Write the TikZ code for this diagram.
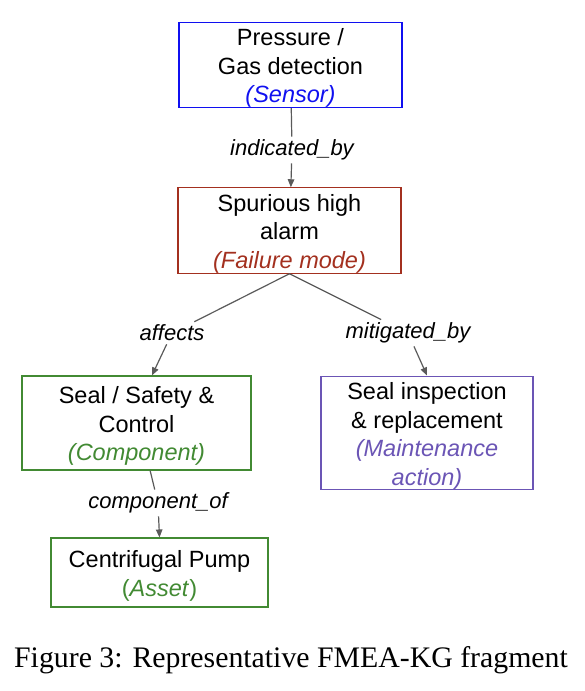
\documentclass[tikz,border=0pt]{standalone}
\usepackage{fontspec}
\setmainfont{Liberation Serif}
\newfontfamily\arialfam{Liberation Sans}
\usepackage{xcolor}
\usetikzlibrary{arrows.meta}
\definecolor{sensorblue}{HTML}{1010F0}
\definecolor{failred}{HTML}{A3301F}
\definecolor{compgreen}{HTML}{428A33}
\definecolor{maintpurple}{HTML}{6B55B5}
\definecolor{linkgray}{HTML}{5A5A5A}
\newcommand{\topstrut}{\rule{0pt}{23.5pt}}

\begin{document}
\begin{tikzpicture}[x=1pt,y=-1pt,
    box/.style={draw,rectangle,line width=1.1pt,align=center,inner sep=0pt,
      font=\arialfam\fontsize{23.5}{28.5}\selectfont},
    rel/.style={font=\arialfam\itshape\fontsize{22}{26}\selectfont,inner sep=3pt},
    link/.style={draw=linkgray,line width=1.2pt,-{Triangle[length=8pt,width=6.5pt]}}]
    \useasboundingbox (0,0) rectangle (584,691);
    % boxes
    \node[box,draw=sensorblue,minimum width=223pt,minimum height=82pt] (sensor) at (290.5,65)
        {\topstrut Pressure /\\Gas detection\\\textcolor{sensorblue}{\itshape(Sensor)}};
    \node[box,draw=failred,minimum width=223pt,minimum height=85pt] (fm) at (289.5,230.5)
        {\topstrut Spurious high\\alarm\\\textcolor{failred}{\itshape(Failure mode)}};
    \node[box,draw=compgreen,minimum width=229pt,minimum height=94pt] (comp) at (136.5,423)
        {\topstrut Seal / Safety \&\\Control\\\textcolor{compgreen}{\itshape(Component)}};
    \node[box,draw=maintpurple,minimum width=212pt,minimum height=110pt] (maint) at (427,433)
        {\topstrut Seal inspection\\\& replacement\\\textcolor{maintpurple}{\itshape(Maintenance}\\\textcolor{maintpurple}{\itshape action)}};
    \node[box,draw=compgreen,minimum width=217pt,minimum height=69pt] (asset) at (159.5,572.5)
        {\topstrut Centrifugal Pump\\\textcolor{compgreen}{(\textit{Asset})}};
    % relation labels
    \node[rel] (ind) at (292,150) {indicated\_by};
    \node[rel] (aff) at (172,333) {affects};
    \node[rel] (mit) at (408,333) {mitigated\_by};
    \node[rel] (cof) at (158,503) {component\_of};
    % links
    \draw[link] (sensor) -- (ind) -- (fm);
    \draw[link] (fm.south) -- (aff) -- (comp.72);
    \draw[link] (fm.south) -- (mit) -- (maint.north);
    \draw[link] (comp.-74) -- (cof) -- (asset.north);
    \node[anchor=base,inner sep=0pt,font=\fontsize{29.8}{34}\selectfont] (caption) at (291,667)
        {Figure 3: Representative FMEA-KG fragment};
\end{tikzpicture}
\end{document}
